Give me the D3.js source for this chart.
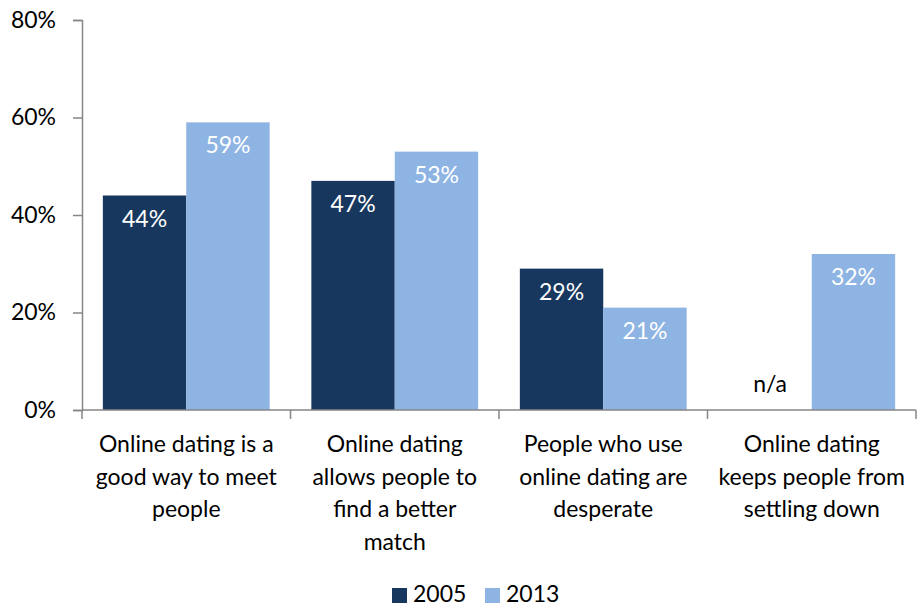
<!DOCTYPE html>
<html>
<head>
<meta charset="utf-8">
<script src="https://cdn.jsdelivr.net/npm/d3@7"></script>
<style>
  body { margin: 0; background: #fff; }
  svg text { font-family: Lato, "Open Sans", sans-serif; }
</style>
</head>
<body>
<svg id="chart" width="917" height="607"></svg>
<script>
var categories = [
  ['Online dating is a', 'good way to meet', 'people'],
  ['Online dating', 'allows people to', 'find a better', 'match'],
  ['People who use', 'online dating are', 'desperate'],
  ['Online dating', 'keeps people from', 'settling down']
]
var years = ['2005', '2013']
var values2005 = [44, 47, 29, null]
var values2013 = [59, 53, 21, 32]
var yTicks = [0, 20, 40, 60, 80]
var colors = ['#17375e', '#8eb4e3']

var svg = d3.select('#chart')
var fontSize = 23
var margin = { top: 20, left: 82, bottom: 197, right: 1 }
var width = +svg.attr('width')
var height = +svg.attr('height')
var chartWidth = width - margin.left - margin.right
var chartHeight = height - margin.top - margin.bottom

var x0 = d3.scaleBand()
  .domain(d3.range(categories.length))
  .range([0, chartWidth])
  .padding(0)

var x1 = d3.scaleBand()
  .domain(years)
  .range([x0.bandwidth() * 0.1, x0.bandwidth() * 0.9])
  .padding(0)

var y = d3.scaleLinear()
  .domain([0, 80])
  .range([chartHeight, 0])

var g = svg.append('g')
  .attr('transform', 'translate(' + margin.left + ',' + margin.top + ')')

var series = [values2005, values2013]

var groups = g.selectAll('g.cat')
  .data(categories.map(function (c, i) { return i }))
  .enter().append('g')
  .attr('class', 'cat')
  .attr('transform', function (i) { return 'translate(' + x0(i) + ',0)' })

groups.selectAll('rect')
  .data(function (i) {
    return years.map(function (yr, s) { return { year: yr, s: s, v: series[s][i] } })
  })
  .enter().filter(function (d) { return d.v !== null })
  .append('rect')
  .attr('x', function (d) { return x1(d.year) })
  .attr('width', x1.bandwidth())
  .attr('y', function (d) { return y(d.v) })
  .attr('height', function (d) { return chartHeight - y(d.v) })
  .attr('fill', function (d) { return colors[d.s] })

groups.selectAll('text.val')
  .data(function (i) {
    return years.map(function (yr, s) { return { year: yr, s: s, v: series[s][i] } })
  })
  .enter().append('text')
  .attr('class', 'val')
  .attr('x', function (d) { return x1(d.year) + x1.bandwidth() / 2 })
  .attr('y', function (d) { return d.v === null ? chartHeight - 18 : y(d.v) + 31 })
  .attr('text-anchor', 'middle')
  .attr('font-size', fontSize)
  .attr('fill', function (d) { return d.v === null ? '#000' : '#fff' })
  .text(function (d) { return d.v === null ? 'n/a' : d.v + '%' })

// axes
var gY = g.append('g')
  .call(d3.axisLeft(y).tickValues(yTicks).tickSize(9).tickPadding(17)
    .tickFormat(function (t) { return t + '%' }))
gY.select('.domain').attr('stroke', '#868686').attr('stroke-width', 1.5)
gY.selectAll('.tick line').attr('stroke', '#868686').attr('stroke-width', 1.5)
gY.selectAll('.tick text')
  .attr('font-size', fontSize)
  .attr('fill', '#000')
  .attr('font-family', 'Lato, sans-serif')

var gX = g.append('g')
  .attr('transform', 'translate(0,' + chartHeight + ')')
gX.append('line')
  .attr('x1', 0).attr('x2', chartWidth)
  .attr('stroke', '#868686').attr('stroke-width', 1.5)
gX.selectAll('line.tick')
  .data(d3.range(categories.length + 1))
  .enter().append('line')
  .attr('class', 'tick')
  .attr('x1', function (i) { return i * x0.bandwidth() })
  .attr('x2', function (i) { return i * x0.bandwidth() })
  .attr('y1', 0).attr('y2', 9)
  .attr('stroke', '#868686').attr('stroke-width', 1.5)

var labels = gX.selectAll('text.cat')
  .data(categories)
  .enter().append('text')
  .attr('class', 'cat')
  .attr('text-anchor', 'middle')
  .attr('font-size', fontSize)
  .attr('fill', '#000')
  .attr('transform', function (c, i) {
    return 'translate(' + (x0(i) + x0.bandwidth() / 2) + ',42)'
  })

labels.selectAll('tspan')
  .data(function (c) { return c })
  .enter().append('tspan')
  .attr('x', 0)
  .attr('y', function (l, j) { return j * 32.5 })
  .text(function (l) { return l })

// legend
var legend = svg.append('g')
  .attr('transform', 'translate(392,588)')
var items = legend.selectAll('g')
  .data(years)
  .enter().append('g')
  .attr('transform', function (d, i) { return 'translate(' + i * 93 + ',0)' })
items.append('rect')
  .attr('width', 15).attr('height', 15)
  .attr('fill', function (d, i) { return colors[i] })
items.append('text')
  .attr('x', 21).attr('y', 14)
  .attr('font-size', fontSize)
  .attr('fill', '#000')
  .text(function (d) { return d })
</script>
</body>
</html>
